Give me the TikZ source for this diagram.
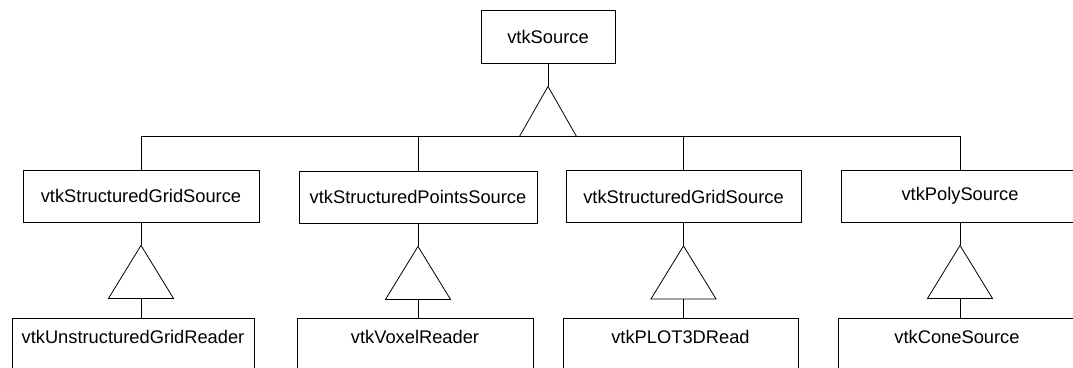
\documentclass[tikz,border=0pt]{standalone}
\usepackage{fontspec}
\setmainfont{Liberation Sans}
\usepackage{tikz}
\usetikzlibrary{positioning, calc}

\begin{document}
\begin{tikzpicture}[
    x=1pt, y=-1pt,
    line width=0.8pt,
    box/.style={draw, rectangle, minimum height=52pt, minimum width=236pt, inner sep=0pt, align=center, font=\fontsize{18.3}{22}\selectfont},
    topbox/.style={box, minimum width=134pt, minimum height=53pt},
    leafbox/.style={box, text height=13pt, text depth=14pt}
]
\useasboundingbox (0,0) rectangle (1073,367);
\node[topbox] (src) at (548,36.5) {vtkSource};
% second row
\node[box] (sgs) at (141,196) {vtkStructuredGridSource};
\node[box, minimum width=238pt] (sps) at (418,197) {vtkStructuredPointsSource};
\node[box, minimum width=235pt] (sgsb) at (683.5,196.5) {vtkStructuredGridSource};
\node[box, minimum width=238pt] (pls) at (960,196) {vtkPolySource};
% bottom row
\node[leafbox, minimum width=242pt] (ugr) at (133,344) {vtkUnstructuredGridReader};
\node[leafbox] (vxr) at (415,344) {vtkVoxelReader};
\node[leafbox, minimum width=235pt] (p3d) at (680.5,344) {vtkPLOT3DRead};
\node[leafbox, minimum width=238pt] (cone) at (957,344) {vtkConeSource};
% top inheritance triangle and bus
\draw (src.south) -- ++(0,23) coordinate (src-apex);
\draw (src-apex) -- ++(-28.5,50) -- ++(57,0) -- cycle;
\coordinate (src-base) at ($(src-apex)+(0,50)$);
\draw (sgs.north |- src-base) -- (pls.north |- src-base);
\foreach \n in {sgs,sps,sgsb,pls}
  \draw (\n.north |- src-base) -- (\n.north);
% lower inheritance triangles
\foreach \p/\c in {sgs/ugr,sps/vxr,sgsb/p3d,pls/cone} {
  \draw (\p.south) -- ++(0,23) coordinate (\p-apex);
  \draw (\p-apex) -- ++(-32.5,53) -- ++(65,0) -- cycle;
  \coordinate (\p-base) at ($(\p-apex)+(0,53)$);
  \draw (\p-base) -- (\p-base |- \c.north);
}
\end{tikzpicture}
\end{document}
